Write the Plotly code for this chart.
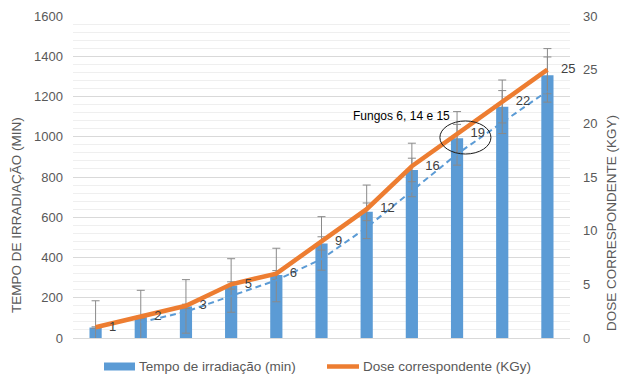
import plotly.graph_objects as go

# ---- data ----
categories = ["1", "2", "3", "5", "6", "9", "12", "16", "19", "22", "25"]
tempo_min = [52, 104, 157, 261, 313, 470, 627, 835, 992, 1149, 1305]
tempo_err_const = 133
tempo_err_pct = 7
dose_kgy = [1, 2, 3, 5, 6, 9, 12, 16, 19, 22, 25]
dose_labels = ["1", "2", "3", "5", "6", "9", "12", "16", "19", "22", "25"]
trend_x = ["2", "3", "5", "6", "9", "12", "16", "19", "22", "25"]
trend_y = [78, 131, 209, 287, 392, 549, 731, 914, 1071, 1227]

FONT = "Liberation Sans, Arial, sans-serif"
BLUE = "#5b9bd5"
ORANGE = "#ed7d31"
GREY_TXT = "#595959"
ERR = "#8a8a8a"

fig = go.Figure()

fig.add_trace(go.Bar(
    x=categories, y=tempo_min, name="Tempo de irradiação (min)",
    marker=dict(color=BLUE, line=dict(width=0)), width=0.27,
    error_y=dict(type="constant", value=tempo_err_const, color=ERR,
                 thickness=1, width=4),
    yaxis="y", showlegend=False,
))

fig.add_trace(go.Scatter(
    x=categories, y=tempo_min, mode="markers",
    marker=dict(size=1, color="rgba(0,0,0,0)"),
    error_y=dict(type="percent", value=tempo_err_pct, color=ERR,
                 thickness=1, width=4),
    yaxis="y", showlegend=False, hoverinfo="skip",
))

fig.add_trace(go.Scatter(
    x=trend_x, y=trend_y, mode="lines",
    line=dict(color=BLUE, width=2, dash="6px,4px"),
    yaxis="y", showlegend=False, hoverinfo="skip",
))

fig.add_trace(go.Scatter(
    x=categories, y=dose_kgy, mode="lines+markers+text",
    line=dict(color=ORANGE, width=4.5),
    marker=dict(size=20, color="rgba(0,0,0,0)"),
    text=dose_labels, textposition="middle right",
    textfont=dict(family=FONT, size=13, color="#404040"),
    name="Dose correspondente (KGy)",
    yaxis="y2", showlegend=False, cliponaxis=False,
))

fig.update_layout(
    width=620, height=378,
    margin=dict(l=73, r=50, t=16, b=40, pad=0, autoexpand=False),
    paper_bgcolor="white", plot_bgcolor="white",
    showlegend=False,
    font=dict(family=FONT, size=13, color=GREY_TXT),
    xaxis=dict(type="category", range=[-0.5, 10.5], autorange=False,
               showticklabels=False, showgrid=False,
               zeroline=False, showline=True, linecolor="#d9d9d9",
               linewidth=1, ticks="", automargin=False),
    yaxis=dict(range=[0, 1600], dtick=200, showgrid=True,
               gridcolor="#d9d9d9", gridwidth=1, zeroline=False,
               showline=False, ticks="", ticklabelstandoff=9,
               automargin=False,
               tickfont=dict(size=13, color=GREY_TXT),
               minor=dict(dtick=40, showgrid=True, gridcolor="#efefef",
                          gridwidth=1)),
    yaxis2=dict(range=[0, 30], dtick=5, overlaying="y", side="right",
                showgrid=False, zeroline=False, showline=False, ticks="",
                ticklabelstandoff=12, automargin=False,
                tickfont=dict(size=13, color=GREY_TXT)),
)

# Axis titles
fig.add_annotation(text="TEMPO DE IRRADIAÇÃO (MIN)", xref="paper", yref="paper",
                   x=(16 - 73) / 497, y=(338 - 215) / 322, textangle=-90,
                   showarrow=False, font=dict(size=13.5, color=GREY_TXT),
                   xanchor="center", yanchor="middle")
fig.add_annotation(text="DOSE CORRESPONDENTE (KGY)", xref="paper", yref="paper",
                   x=(612 - 73) / 497, y=(338 - 223) / 322, textangle=-90,
                   showarrow=False, font=dict(size=13.5, color=GREY_TXT),
                   xanchor="center", yanchor="middle")

# Callout
fig.add_annotation(text="Fungos 6, 14 e 15", xref="x", yref="y2",
                   x=6.77, y=20.68, showarrow=False,
                   font=dict(size=12, color="#000000"))
fig.add_shape(type="circle", xref="x", yref="y2",
              x0=7.62, x1=8.75, y0=17.14, y1=20.22,
              line=dict(color="#1a1a1a", width=1))

# Manual legend
def px_x(p):
    return (p - 73) / 497

def px_y(p):
    return (338 - p) / 322

fig.add_shape(type="rect", xref="paper", yref="paper",
              x0=px_x(104), x1=px_x(135), y0=px_y(370.5), y1=px_y(362.5),
              fillcolor=BLUE, line=dict(width=0))
fig.add_annotation(text="Tempo de irradiação (min)", xref="paper", yref="paper",
                   x=px_x(137), y=px_y(366.5), xanchor="left", yanchor="middle",
                   showarrow=False, font=dict(size=13.5, color=GREY_TXT))
fig.add_shape(type="line", xref="paper", yref="paper",
              x0=px_x(327), x1=px_x(359), y0=px_y(366.5), y1=px_y(366.5),
              line=dict(color=ORANGE, width=4.5))
fig.add_annotation(text="Dose correspondente (KGy)", xref="paper", yref="paper",
                   x=px_x(361), y=px_y(366.5), xanchor="left", yanchor="middle",
                   showarrow=False, font=dict(size=13.5, color=GREY_TXT))

fig.write_html("out.html", config={"displayModeBar": False},
               post_script="document.body.style.margin='0';document.body.style.overflow='hidden';")
